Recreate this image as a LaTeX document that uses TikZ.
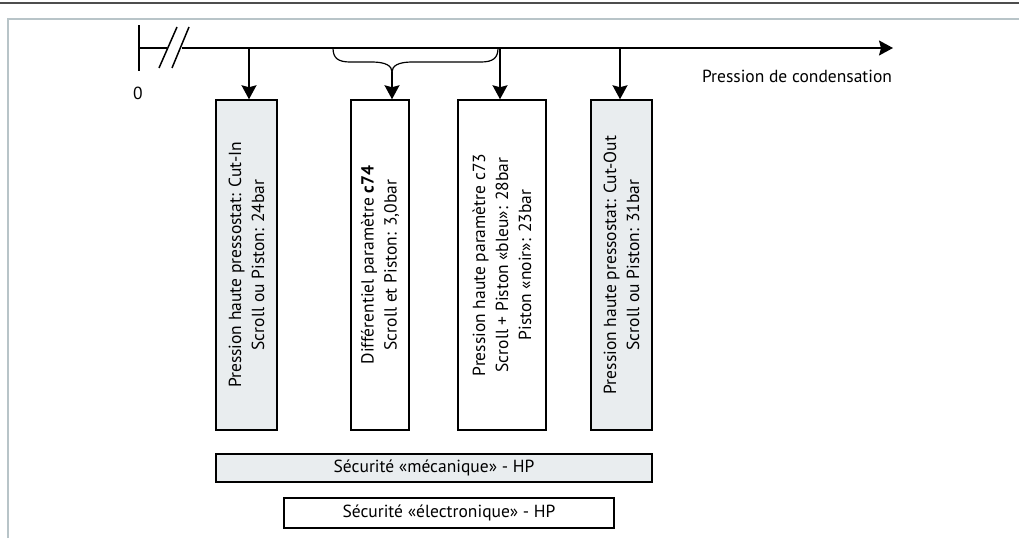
\documentclass[tikz,border=0pt]{standalone}
\usepackage{fontspec}
\setmainfont{PT Sans}
\usetikzlibrary{arrows.meta}
\definecolor{boxgray}{RGB}{233,237,239}
\definecolor{framegray}{RGB}{184,196,200}
\definecolor{rulegray}{RGB}{77,77,77}

\begin{document}
\begin{tikzpicture}[x=1pt,y=-1pt,
    every node/.style={font=\fontsize{17.5}{23}\selectfont},
    arr/.style={-{Stealth[length=14pt,width=15pt,inset=2pt]},line width=1.5pt},
    vbox/.style={draw,line width=1.5pt,rotate=90,minimum width=330pt,align=center,inner sep=0pt},
    hbar/.style={draw,line width=1.5pt,inner sep=0pt}]
        \useasboundingbox (0,0) rectangle (1019,538);
        \draw[rulegray,line width=2.5pt] (0,3) -- (1019,3);
        \draw[framegray,line width=2pt] (8,538) -- (8,18.5) -- (1019,18.5);
        \coordinate (zero) at (139,48);
        \coordinate (tip) at (893,48);
        \draw[line width=1.5pt] (139,25) -- (139,71);
        \draw[line width=1.5pt] (zero) -- (167,48);
        \draw[arr] (182,48) -- (tip);
        \draw[line width=1.5pt] (159,68) -- (177,27);
        \draw[line width=1.5pt] (172,68) -- (189,27);
        \node at (138,93) {0};
        \node at (797,76) {Pression de condensation};
        \node[vbox,fill=boxgray,minimum height=61pt] (cutin) at (246.5,265) {Pression haute pressostat: Cut-In\\Scroll ou Piston: 24bar};
        \node[vbox,minimum height=58pt] (diff) at (380,265) {Différentiel paramètre \textbf{c74}\\Scroll et Piston: 3,0bar};
        \node[vbox,minimum height=88pt] (param) at (502,265) {Pression haute paramètre c73\\Scroll + Piston «bleu»: 28bar\\Piston «noir»: 23bar};
        \node[vbox,fill=boxgray,minimum height=61pt] (cutout) at (621.5,265) {Pression haute pressostat: Cut-Out\\Scroll ou Piston: 31bar};
        \node[hbar,fill=boxgray,minimum width=436pt,minimum height=28pt] (meca) at (434,468) {Sécurité «mécanique» - HP};
        \node[hbar,fill=white,minimum width=330pt,minimum height=30pt] (elec) at (449,513) {Sécurité «électronique» - HP};
        \coordinate (pin) at (249,48);
        \coordinate (pdiff) at (392,72);
        \coordinate (pparam) at (500,48);
        \coordinate (pout) at (620,48);
        \draw[line width=1.2pt] (333,48) .. controls (333,58) and (338,62) .. (350,62) -- (372,62) .. controls (386,62) and (392,66) .. (pdiff);
        \draw[line width=1.2pt] (498,48) .. controls (498,58) and (493,62) .. (481,62) -- (412,62) .. controls (398,62) and (392,66) .. (pdiff);
        \draw[arr] (pin) -- (pin |- cutin.east);
        \draw[arr] (pdiff) -- (pdiff |- diff.east);
        \draw[arr] (pparam) -- (pparam |- param.east);
        \draw[arr] (pout) -- (pout |- cutout.east);
    \end{tikzpicture}
\end{document}
